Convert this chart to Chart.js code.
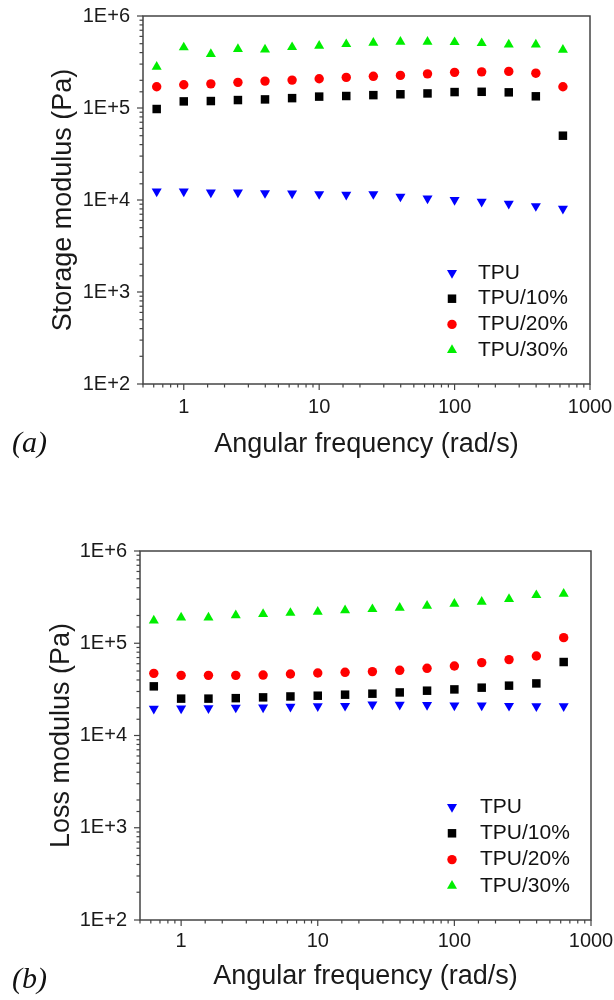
<!DOCTYPE html>
<html>
<head>
<meta charset="utf-8">
<script src="https://cdn.jsdelivr.net/npm/chart.js@4.4.1/dist/chart.umd.min.js"></script>
<style>
  html, body { margin: 0; padding: 0; background: #fff; }
  #wrap { position: relative; width: 614px; height: 1000px; }
  .panel { position: absolute; left: 0; width: 614px; height: 500px; }
  .tag { position: absolute; left: 12px; font: italic 30px 'Liberation Serif', 'Times New Roman', serif; color: #111; }
</style>
</head>
<body>
<div id="wrap">
  <div class="panel" style="top:0"><canvas id="chartA"></canvas></div>
  <div class="panel" style="top:500px"><canvas id="chartB"></canvas></div>
  <div class="tag" style="top:425px">(a)</div>
  <div class="tag" style="top:961px">(b)</div>
</div>
<script>
// angular frequency (rad/s), 5 points per decade
const freq = [0.631, 1, 1.585, 2.512, 3.981, 6.31, 10, 15.85, 25.12, 39.81, 63.1, 100, 158.5, 251.2, 398.1, 631];

const seriesNames = ['TPU', 'TPU/10%', 'TPU/20%', 'TPU/30%'];
const seriesColors = ['#0000ff', '#000000', '#ff0000', '#00ee00'];

// storage modulus G' (Pa)
const tpuStorage   = [1.24e4, 1.24e4, 1.21e4, 1.21e4, 1.19e4, 1.18e4, 1.16e4, 1.14e4, 1.16e4, 1.09e4, 1.04e4, 1.0e4, 9.6e3, 9.1e3, 8.6e3, 8.05e3];
const tpu10Storage = [9.75e4, 1.18e5, 1.19e5, 1.22e5, 1.24e5, 1.28e5, 1.33e5, 1.35e5, 1.38e5, 1.41e5, 1.44e5, 1.49e5, 1.50e5, 1.48e5, 1.34e5, 5.0e4];
const tpu20Storage = [1.70e5, 1.79e5, 1.83e5, 1.90e5, 1.96e5, 2.01e5, 2.08e5, 2.15e5, 2.21e5, 2.26e5, 2.35e5, 2.44e5, 2.47e5, 2.50e5, 2.39e5, 1.70e5];
const tpu30Storage = [2.80e5, 4.55e5, 3.85e5, 4.36e5, 4.32e5, 4.58e5, 4.73e5, 4.94e5, 5.10e5, 5.23e5, 5.23e5, 5.19e5, 5.06e5, 4.90e5, 4.90e5, 4.28e5];

// loss modulus G'' (Pa)
const tpuLoss   = [1.95e4, 1.97e4, 1.98e4, 2.01e4, 2.02e4, 2.05e4, 2.08e4, 2.10e4, 2.17e4, 2.16e4, 2.14e4, 2.12e4, 2.12e4, 2.10e4, 2.08e4, 2.08e4];
const tpu10Loss = [3.41e4, 2.51e4, 2.51e4, 2.54e4, 2.59e4, 2.65e4, 2.70e4, 2.77e4, 2.84e4, 2.93e4, 3.06e4, 3.16e4, 3.30e4, 3.47e4, 3.67e4, 6.26e4];
const tpu20Loss = [4.72e4, 4.49e4, 4.49e4, 4.49e4, 4.52e4, 4.64e4, 4.76e4, 4.84e4, 4.93e4, 5.09e4, 5.35e4, 5.67e4, 6.17e4, 6.65e4, 7.28e4, 1.15e5];
const tpu30Loss = [1.76e5, 1.90e5, 1.90e5, 2.01e5, 2.07e5, 2.13e5, 2.19e5, 2.27e5, 2.34e5, 2.42e5, 2.54e5, 2.67e5, 2.81e5, 3.01e5, 3.32e5, 3.43e5];

const xTicks = [1, 10, 100, 1000];
const yTicks = [1e2, 1e3, 1e4, 1e5, 1e6];

Chart.defaults.font.family = "'Liberation Sans', Arial, sans-serif";
Chart.defaults.color = '#1a1a1a';

const isDecade = v => Math.abs(Math.log10(v) - Math.round(Math.log10(v))) < 1e-6;

// marker look per series
const markers = [
  { pointStyle: 'triangle', radius: 5.8, rotation: 180 },
  { pointStyle: 'rect', radius: 6, rotation: 0 },
  { pointStyle: 'circle', radius: 4.7, rotation: 0 },
  { pointStyle: 'triangle', radius: 5.8, rotation: 0 }
];

// box around plot + outward tick marks (major and minor)
const frameTicks = {
  id: 'frameTicks',
  afterDraw(chart) {
    const { ctx, chartArea: a } = chart;
    ctx.save();
    ctx.strokeStyle = '#444';
    ctx.lineWidth = 1.5;
    ctx.strokeRect(a.left, a.top, a.right - a.left, a.bottom - a.top);
    ctx.lineWidth = 1.2;
    ['x', 'y'].forEach(id => {
      const s = chart.scales[id];
      s.ticks.forEach(t => {
        const len = isDecade(t.value) ? 6 : 3.5;
        const p = s.getPixelForValue(t.value);
        ctx.beginPath();
        if (id === 'x') { ctx.moveTo(p, a.bottom); ctx.lineTo(p, a.bottom + len); }
        else { ctx.moveTo(a.left, p); ctx.lineTo(a.left - len, p); }
        ctx.stroke();
      });
    });
    ctx.restore();
  }
};

// legend drawn inside the plot, lower right
const insideLegend = {
  id: 'insideLegend',
  afterDatasetsDraw(chart, args, opts) {
    const { ctx, chartArea: a } = chart;
    ctx.save();
    ctx.font = "21px 'Liberation Sans', Arial, sans-serif";
    ctx.textBaseline = 'middle';
    chart.data.datasets.forEach((ds, i) => {
      const y = a.top + opts.rowTop + i * opts.rowGap;
      ctx.fillStyle = ds.backgroundColor;
      Chart.helpers.drawPoint(ctx, {
        pointStyle: ds.pointStyle, radius: ds.pointRadius, rotation: ds.pointRotation, borderWidth: 0
      }, a.left + opts.markerX, y);
      ctx.fillStyle = '#111';
      ctx.fillText(ds.label, a.left + opts.textX, y);
    });
    ctx.restore();
  }
};

// fixed axis box sizes, no extra room for overhanging labels
function fixSize(prop, size) {
  return s => {
    s[prop] = size;
    s.paddingTop = 0; s.paddingBottom = 0; s.paddingLeft = 0; s.paddingRight = 0;
  };
}

function makeChart(canvasId, yTitle, values, box) {
  const datasets = values.map((vals, i) => ({
    label: seriesNames[i],
    data: freq.map((f, j) => ({ x: f, y: vals[j] })),
    backgroundColor: seriesColors[i],
    borderColor: seriesColors[i],
    borderWidth: 0,
    pointStyle: markers[i].pointStyle,
    pointRadius: markers[i].radius,
    pointRotation: markers[i].rotation,
    showLine: false
  }));

  return new Chart(document.getElementById(canvasId), {
    type: 'scatter',
    data: { datasets },
    options: {
      responsive: true,
      maintainAspectRatio: false,
      animation: false,
      layout: { padding: { top: box.top, right: box.right, bottom: 0, left: 0 } },
      plugins: {
        legend: { display: false },
        tooltip: { enabled: false },
        insideLegend: box.legend
      },
      scales: {
        x: {
          type: 'logarithmic',
          min: 0.5,
          max: 1000,
          afterFit: fixSize('height', box.xHeight),
          grid: { drawOnChartArea: false, drawTicks: false },
          border: { display: false },
          ticks: {
            autoSkip: false,
            maxRotation: 0,
            padding: box.xTickPad,
            font: { size: 20 },
            callback: v => (xTicks.includes(v) ? String(v) : '')
          },
          title: {
            display: true,
            text: 'Angular frequency (rad/s)',
            font: { size: 27 },
            padding: { top: 0, bottom: box.xTitlePad }
          }
        },
        y: {
          type: 'logarithmic',
          min: 1e2,
          max: 1e6,
          afterFit: fixSize('width', box.yWidth),
          grid: { drawOnChartArea: false, drawTicks: false },
          border: { display: false },
          ticks: {
            autoSkip: false,
            padding: 13,
            font: { size: 20 },
            callback: v => (yTicks.includes(v) ? '1E+' + Math.round(Math.log10(v)) : '')
          },
          title: {
            display: true,
            text: yTitle,
            font: { size: 27 },
            padding: { top: box.yTitlePad, bottom: 0 }
          }
        }
      }
    },
    plugins: [frameTicks, insideLegend]
  });
}

makeChart('chartA', 'Storage modulus (Pa)',
  [tpuStorage, tpu10Storage, tpu20Storage, tpu30Storage],
  { top: 16, right: 24, yWidth: 143, xHeight: 116, xTickPad: 11, xTitlePad: 39, yTitlePad: 47,
    legend: { markerX: 309, textX: 335, rowTop: 257, rowGap: 25.7 } });

makeChart('chartB', 'Loss modulus (Pa)',
  [tpuLoss, tpu10Loss, tpu20Loss, tpu30Loss],
  { top: 51, right: 23, yWidth: 140, xHeight: 80, xTickPad: 9, xTitlePad: 7, yTitlePad: 45,
    legend: { markerX: 312, textX: 340, rowTop: 256, rowGap: 26.3 } });
</script>
</body>
</html>
